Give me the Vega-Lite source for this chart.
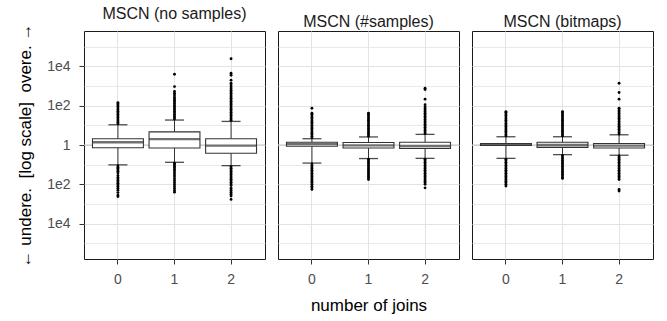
{
  "$schema": "https://vega.github.io/schema/vega-lite/v6.json",
  "background": "white",
  "padding": {"left": 16, "top": 5, "right": 5, "bottom": 5},
  "bounds": "flush",
  "spacing": 13,
  "config": {
    "font": "Liberation Sans",
    "view": {"stroke": "#1a1a1a", "strokeWidth": 1},
    "axis": {
      "labelFont": "Liberation Sans", "labelFontSize": 14, "labelColor": "#4d4d4d",
      "tickColor": "#333333", "tickSize": 5, "domain": false,
      "gridColor": "#e3e3e3", "gridWidth": 1,
      "titleFont": "Liberation Sans", "titleFontSize": 17, "titleColor": "#000000", "titleFontWeight": "normal"
    },
    "title": {"font": "Liberation Sans", "fontSize": 16, "fontWeight": "normal", "color": "#1a1a1a", "baseline": "alphabetic", "offset": 1.5}
  },
  "datasets": {
    "boxes": [
      {"m": "n", "j": 0, "lo": -1.01, "q1": -0.14, "med": 0.14, "q3": 0.32, "hi": 1.03},
      {"m": "n", "j": 1, "lo": -0.88, "q1": -0.15, "med": 0.30, "q3": 0.67, "hi": 1.27},
      {"m": "n", "j": 2, "lo": -1.05, "q1": -0.42, "med": -0.03, "q3": 0.32, "hi": 1.20},
      {"m": "s", "j": 0, "lo": -0.92, "q1": -0.06, "med": 0.04, "q3": 0.14, "hi": 0.32},
      {"m": "s", "j": 1, "lo": -0.69, "q1": -0.15, "med": -0.02, "q3": 0.13, "hi": 0.41},
      {"m": "s", "j": 2, "lo": -0.68, "q1": -0.17, "med": -0.04, "q3": 0.14, "hi": 0.54},
      {"m": "b", "j": 0, "lo": -0.68, "q1": -0.02, "med": 0.02, "q3": 0.08, "hi": 0.42},
      {"m": "b", "j": 1, "lo": -0.49, "q1": -0.12, "med": 0.0, "q3": 0.14, "hi": 0.42},
      {"m": "b", "j": 2, "lo": -0.52, "q1": -0.15, "med": -0.03, "q3": 0.08, "hi": 0.52}
    ],
    "outliers": [
      {"m":"n","j":0,"v":1.08},{"m":"n","j":0,"v":1.16},{"m":"n","j":0,"v":1.24},{"m":"n","j":0,"v":1.32},{"m":"n","j":0,"v":1.40},{"m":"n","j":0,"v":1.48},{"m":"n","j":0,"v":1.56},{"m":"n","j":0,"v":1.64},{"m":"n","j":0,"v":1.72},{"m":"n","j":0,"v":1.80},{"m":"n","j":0,"v":1.88},{"m":"n","j":0,"v":1.96},{"m":"n","j":0,"v":2.04},{"m":"n","j":0,"v":2.10},{"m":"n","j":0,"v":2.16},
      {"m":"n","j":0,"v":-1.06},{"m":"n","j":0,"v":-1.13},{"m":"n","j":0,"v":-1.20},{"m":"n","j":0,"v":-1.27},{"m":"n","j":0,"v":-1.34},{"m":"n","j":0,"v":-1.42},{"m":"n","j":0,"v":-1.55},{"m":"n","j":0,"v":-1.65},{"m":"n","j":0,"v":-1.73},{"m":"n","j":0,"v":-1.80},{"m":"n","j":0,"v":-1.88},{"m":"n","j":0,"v":-1.95},{"m":"n","j":0,"v":-2.02},{"m":"n","j":0,"v":-2.10},{"m":"n","j":0,"v":-2.20},{"m":"n","j":0,"v":-2.30},{"m":"n","j":0,"v":-2.42},{"m":"n","j":0,"v":-2.55},{"m":"n","j":0,"v":-2.62},
      {"m":"n","j":1,"v":1.32},{"m":"n","j":1,"v":1.40},{"m":"n","j":1,"v":1.48},{"m":"n","j":1,"v":1.56},{"m":"n","j":1,"v":1.64},{"m":"n","j":1,"v":1.72},{"m":"n","j":1,"v":1.80},{"m":"n","j":1,"v":1.88},{"m":"n","j":1,"v":1.96},{"m":"n","j":1,"v":2.04},{"m":"n","j":1,"v":2.12},{"m":"n","j":1,"v":2.20},{"m":"n","j":1,"v":2.28},{"m":"n","j":1,"v":2.36},{"m":"n","j":1,"v":2.44},{"m":"n","j":1,"v":2.55},{"m":"n","j":1,"v":2.63},{"m":"n","j":1,"v":2.72},{"m":"n","j":1,"v":2.97},{"m":"n","j":1,"v":3.60},
      {"m":"n","j":1,"v":-0.93},{"m":"n","j":1,"v":-1.00},{"m":"n","j":1,"v":-1.08},{"m":"n","j":1,"v":-1.16},{"m":"n","j":1,"v":-1.24},{"m":"n","j":1,"v":-1.32},{"m":"n","j":1,"v":-1.42},{"m":"n","j":1,"v":-1.52},{"m":"n","j":1,"v":-1.62},{"m":"n","j":1,"v":-1.72},{"m":"n","j":1,"v":-1.82},{"m":"n","j":1,"v":-1.92},{"m":"n","j":1,"v":-2.02},{"m":"n","j":1,"v":-2.12},{"m":"n","j":1,"v":-2.22},{"m":"n","j":1,"v":-2.32},{"m":"n","j":1,"v":-2.40},
      {"m":"n","j":2,"v":1.26},{"m":"n","j":2,"v":1.34},{"m":"n","j":2,"v":1.42},{"m":"n","j":2,"v":1.50},{"m":"n","j":2,"v":1.58},{"m":"n","j":2,"v":1.66},{"m":"n","j":2,"v":1.74},{"m":"n","j":2,"v":1.82},{"m":"n","j":2,"v":1.90},{"m":"n","j":2,"v":1.98},{"m":"n","j":2,"v":2.06},{"m":"n","j":2,"v":2.14},{"m":"n","j":2,"v":2.22},{"m":"n","j":2,"v":2.30},{"m":"n","j":2,"v":2.38},{"m":"n","j":2,"v":2.46},{"m":"n","j":2,"v":2.54},{"m":"n","j":2,"v":2.62},{"m":"n","j":2,"v":2.70},{"m":"n","j":2,"v":2.78},{"m":"n","j":2,"v":2.86},{"m":"n","j":2,"v":2.95},{"m":"n","j":2,"v":3.05},{"m":"n","j":2,"v":3.14},{"m":"n","j":2,"v":3.30},{"m":"n","j":2,"v":3.55},{"m":"n","j":2,"v":3.65},{"m":"n","j":2,"v":4.39},
      {"m":"n","j":2,"v":-1.10},{"m":"n","j":2,"v":-1.18},{"m":"n","j":2,"v":-1.26},{"m":"n","j":2,"v":-1.34},{"m":"n","j":2,"v":-1.42},{"m":"n","j":2,"v":-1.50},{"m":"n","j":2,"v":-1.58},{"m":"n","j":2,"v":-1.66},{"m":"n","j":2,"v":-1.74},{"m":"n","j":2,"v":-1.82},{"m":"n","j":2,"v":-1.90},{"m":"n","j":2,"v":-1.98},{"m":"n","j":2,"v":-2.06},{"m":"n","j":2,"v":-2.20},{"m":"n","j":2,"v":-2.30},{"m":"n","j":2,"v":-2.40},{"m":"n","j":2,"v":-2.50},{"m":"n","j":2,"v":-2.60},{"m":"n","j":2,"v":-2.77},
      {"m":"s","j":0,"v":0.36},{"m":"s","j":0,"v":0.44},{"m":"s","j":0,"v":0.52},{"m":"s","j":0,"v":0.60},{"m":"s","j":0,"v":0.68},{"m":"s","j":0,"v":0.76},{"m":"s","j":0,"v":0.84},{"m":"s","j":0,"v":0.92},{"m":"s","j":0,"v":1.00},{"m":"s","j":0,"v":1.08},{"m":"s","j":0,"v":1.16},{"m":"s","j":0,"v":1.24},{"m":"s","j":0,"v":1.32},{"m":"s","j":0,"v":1.40},{"m":"s","j":0,"v":1.48},{"m":"s","j":0,"v":1.56},{"m":"s","j":0,"v":1.62},{"m":"s","j":0,"v":1.87},
      {"m":"s","j":0,"v":-0.96},{"m":"s","j":0,"v":-1.04},{"m":"s","j":0,"v":-1.12},{"m":"s","j":0,"v":-1.20},{"m":"s","j":0,"v":-1.28},{"m":"s","j":0,"v":-1.36},{"m":"s","j":0,"v":-1.44},{"m":"s","j":0,"v":-1.52},{"m":"s","j":0,"v":-1.60},{"m":"s","j":0,"v":-1.68},{"m":"s","j":0,"v":-1.76},{"m":"s","j":0,"v":-1.84},{"m":"s","j":0,"v":-1.92},{"m":"s","j":0,"v":-2.00},{"m":"s","j":0,"v":-2.10},{"m":"s","j":0,"v":-2.18},{"m":"s","j":0,"v":-2.26},
      {"m":"s","j":1,"v":0.45},{"m":"s","j":1,"v":0.53},{"m":"s","j":1,"v":0.61},{"m":"s","j":1,"v":0.69},{"m":"s","j":1,"v":0.77},{"m":"s","j":1,"v":0.85},{"m":"s","j":1,"v":0.93},{"m":"s","j":1,"v":1.01},{"m":"s","j":1,"v":1.10},{"m":"s","j":1,"v":1.18},{"m":"s","j":1,"v":1.26},{"m":"s","j":1,"v":1.34},{"m":"s","j":1,"v":1.42},{"m":"s","j":1,"v":1.50},{"m":"s","j":1,"v":1.58},{"m":"s","j":1,"v":1.62},
      {"m":"s","j":1,"v":-0.72},{"m":"s","j":1,"v":-0.80},{"m":"s","j":1,"v":-0.88},{"m":"s","j":1,"v":-0.96},{"m":"s","j":1,"v":-1.04},{"m":"s","j":1,"v":-1.12},{"m":"s","j":1,"v":-1.20},{"m":"s","j":1,"v":-1.28},{"m":"s","j":1,"v":-1.36},{"m":"s","j":1,"v":-1.44},{"m":"s","j":1,"v":-1.52},{"m":"s","j":1,"v":-1.60},{"m":"s","j":1,"v":-1.68},{"m":"s","j":1,"v":-1.76},
      {"m":"s","j":2,"v":0.58},{"m":"s","j":2,"v":0.66},{"m":"s","j":2,"v":0.74},{"m":"s","j":2,"v":0.82},{"m":"s","j":2,"v":0.90},{"m":"s","j":2,"v":0.98},{"m":"s","j":2,"v":1.06},{"m":"s","j":2,"v":1.14},{"m":"s","j":2,"v":1.22},{"m":"s","j":2,"v":1.30},{"m":"s","j":2,"v":1.38},{"m":"s","j":2,"v":1.46},{"m":"s","j":2,"v":1.54},{"m":"s","j":2,"v":1.62},{"m":"s","j":2,"v":1.70},{"m":"s","j":2,"v":1.78},{"m":"s","j":2,"v":1.86},{"m":"s","j":2,"v":1.94},{"m":"s","j":2,"v":2.05},{"m":"s","j":2,"v":2.33},{"m":"s","j":2,"v":2.82},{"m":"s","j":2,"v":2.89},
      {"m":"s","j":2,"v":-0.72},{"m":"s","j":2,"v":-0.80},{"m":"s","j":2,"v":-0.88},{"m":"s","j":2,"v":-0.96},{"m":"s","j":2,"v":-1.04},{"m":"s","j":2,"v":-1.12},{"m":"s","j":2,"v":-1.20},{"m":"s","j":2,"v":-1.28},{"m":"s","j":2,"v":-1.36},{"m":"s","j":2,"v":-1.44},{"m":"s","j":2,"v":-1.52},{"m":"s","j":2,"v":-1.60},{"m":"s","j":2,"v":-1.68},{"m":"s","j":2,"v":-1.76},{"m":"s","j":2,"v":-1.84},{"m":"s","j":2,"v":-1.92},{"m":"s","j":2,"v":-2.00},{"m":"s","j":2,"v":-2.18},
      {"m":"b","j":0,"v":0.46},{"m":"b","j":0,"v":0.54},{"m":"b","j":0,"v":0.62},{"m":"b","j":0,"v":0.70},{"m":"b","j":0,"v":0.78},{"m":"b","j":0,"v":0.86},{"m":"b","j":0,"v":0.94},{"m":"b","j":0,"v":1.02},{"m":"b","j":0,"v":1.10},{"m":"b","j":0,"v":1.18},{"m":"b","j":0,"v":1.26},{"m":"b","j":0,"v":1.34},{"m":"b","j":0,"v":1.42},{"m":"b","j":0,"v":1.50},{"m":"b","j":0,"v":1.58},{"m":"b","j":0,"v":1.66},{"m":"b","j":0,"v":1.70},
      {"m":"b","j":0,"v":-0.72},{"m":"b","j":0,"v":-0.80},{"m":"b","j":0,"v":-0.88},{"m":"b","j":0,"v":-0.96},{"m":"b","j":0,"v":-1.04},{"m":"b","j":0,"v":-1.12},{"m":"b","j":0,"v":-1.20},{"m":"b","j":0,"v":-1.28},{"m":"b","j":0,"v":-1.36},{"m":"b","j":0,"v":-1.44},{"m":"b","j":0,"v":-1.52},{"m":"b","j":0,"v":-1.60},{"m":"b","j":0,"v":-1.68},{"m":"b","j":0,"v":-1.76},{"m":"b","j":0,"v":-1.84},{"m":"b","j":0,"v":-1.92},{"m":"b","j":0,"v":-2.00},{"m":"b","j":0,"v":-2.09},
      {"m":"b","j":1,"v":0.46},{"m":"b","j":1,"v":0.54},{"m":"b","j":1,"v":0.62},{"m":"b","j":1,"v":0.70},{"m":"b","j":1,"v":0.78},{"m":"b","j":1,"v":0.86},{"m":"b","j":1,"v":0.94},{"m":"b","j":1,"v":1.02},{"m":"b","j":1,"v":1.10},{"m":"b","j":1,"v":1.18},{"m":"b","j":1,"v":1.26},{"m":"b","j":1,"v":1.34},{"m":"b","j":1,"v":1.42},{"m":"b","j":1,"v":1.50},{"m":"b","j":1,"v":1.58},{"m":"b","j":1,"v":1.66},{"m":"b","j":1,"v":1.70},
      {"m":"b","j":1,"v":-0.53},{"m":"b","j":1,"v":-0.61},{"m":"b","j":1,"v":-0.69},{"m":"b","j":1,"v":-0.77},{"m":"b","j":1,"v":-0.85},{"m":"b","j":1,"v":-0.93},{"m":"b","j":1,"v":-1.01},{"m":"b","j":1,"v":-1.09},{"m":"b","j":1,"v":-1.17},{"m":"b","j":1,"v":-1.25},{"m":"b","j":1,"v":-1.33},{"m":"b","j":1,"v":-1.41},{"m":"b","j":1,"v":-1.49},{"m":"b","j":1,"v":-1.57},{"m":"b","j":1,"v":-1.65},{"m":"b","j":1,"v":-1.70},
      {"m":"b","j":2,"v":0.56},{"m":"b","j":2,"v":0.64},{"m":"b","j":2,"v":0.72},{"m":"b","j":2,"v":0.80},{"m":"b","j":2,"v":0.88},{"m":"b","j":2,"v":0.96},{"m":"b","j":2,"v":1.04},{"m":"b","j":2,"v":1.12},{"m":"b","j":2,"v":1.20},{"m":"b","j":2,"v":1.28},{"m":"b","j":2,"v":1.36},{"m":"b","j":2,"v":1.44},{"m":"b","j":2,"v":1.52},{"m":"b","j":2,"v":1.60},{"m":"b","j":2,"v":1.68},{"m":"b","j":2,"v":1.76},{"m":"b","j":2,"v":1.84},{"m":"b","j":2,"v":1.87},{"m":"b","j":2,"v":2.33},{"m":"b","j":2,"v":2.67},{"m":"b","j":2,"v":3.14},
      {"m":"b","j":2,"v":-0.56},{"m":"b","j":2,"v":-0.64},{"m":"b","j":2,"v":-0.72},{"m":"b","j":2,"v":-0.80},{"m":"b","j":2,"v":-0.88},{"m":"b","j":2,"v":-0.96},{"m":"b","j":2,"v":-1.04},{"m":"b","j":2,"v":-1.12},{"m":"b","j":2,"v":-1.20},{"m":"b","j":2,"v":-1.28},{"m":"b","j":2,"v":-1.36},{"m":"b","j":2,"v":-1.44},{"m":"b","j":2,"v":-1.52},{"m":"b","j":2,"v":-1.60},{"m":"b","j":2,"v":-1.68},{"m":"b","j":2,"v":-1.76},{"m":"b","j":2,"v":-2.26},{"m":"b","j":2,"v":-2.34}
    ]
  },
  "hconcat": [
    {
      "width": 181, "height": 228,
      "title": {"text": "MSCN (no samples)"},
      "resolve": {"axis": {"y": "independent"}},
      "layer": [
        {"data": {"name": "boxes"}, "transform": [{"filter": "datum.m === 'n' && datum.j === 0"}],
         "mark": {"type": "rule", "color": "#c4c4c4", "strokeWidth": 1},
         "encoding": {"y": {"datum": 0, "type": "quantitative",
           "scale": {"domain": [-5.8, 5.8], "nice": false, "zero": false},
           "axis": {"orient": "left", "title": null, "labels": false, "ticks": false, "domain": false, "grid": true,
             "values": [-5, -3, -1, 1, 3, 5], "gridWidth": 0.8}}}},
        {"data": {"name": "boxes"}, "transform": [{"filter": "datum.m === 'n'"}],
         "mark": {"type": "rule", "color": "#333333", "strokeWidth": 1},
         "encoding": {"x": {"field": "j", "type": "ordinal", "scale": {"type": "band", "paddingInner": 0.1, "paddingOuter": 0.15}, "axis": {"title": null, "labelAngle": 0, "bandPosition": 0.5, "grid": true, "labelPadding": 8}},
           "y": {"field": "lo", "type": "quantitative", "axis": null}, "y2": {"field": "hi"}}},
        {"data": {"name": "boxes"}, "transform": [{"filter": "datum.m === 'n'"}],
         "mark": {"type": "tick", "size": 19, "thickness": 1.3, "color": "#000000"},
         "encoding": {"x": {"field": "j", "type": "ordinal"}, "y": {"field": "lo", "type": "quantitative", "axis": null}}},
        {"data": {"name": "boxes"}, "transform": [{"filter": "datum.m === 'n'"}],
         "mark": {"type": "tick", "size": 19, "thickness": 1.3, "color": "#000000"},
         "encoding": {"x": {"field": "j", "type": "ordinal"}, "y": {"field": "hi", "type": "quantitative", "axis": null}}},
        {"data": {"name": "boxes"}, "transform": [{"filter": "datum.m === 'n'"}],
         "mark": {"type": "bar", "fill": "white", "stroke": "#333333", "strokeWidth": 1.1},
         "encoding": {"x": {"field": "j", "type": "ordinal"}, "y": {"field": "q1", "type": "quantitative", "axis": null}, "y2": {"field": "q3"}}},
        {"data": {"name": "boxes"}, "transform": [{"filter": "datum.m === 'n'"}],
         "mark": {"type": "tick", "size": 51, "thickness": 2.3, "color": "#333333"},
         "encoding": {"x": {"field": "j", "type": "ordinal"}, "y": {"field": "med", "type": "quantitative", "axis": null}}},
        {"data": {"name": "outliers"}, "transform": [{"filter": "datum.m === 'n'"}],
         "mark": {"type": "circle", "size": 8, "color": "#000000", "opacity": 1},
         "encoding": {"x": {"field": "j", "type": "ordinal"}, "y": {"field": "v", "type": "quantitative",
           "axis": {"orient": "left", "grid": true, "title": "← undere.\u00a0 [log scale]\u00a0 overe. →", "titlePadding": 12, "labelPadding": 9,
             "values": [-4, -2, 0, 2, 4],
             "labelExpr": "datum.value == 0 ? '1' : (abs(datum.value) == 2 ? '1e2' : '1e4')"}}}}
      ]
    },
    {
      "width": 181, "height": 228,
      "title": {"text": "MSCN (#samples)"},
      "resolve": {"axis": {"y": "independent"}},
      "layer": [
        {"data": {"name": "boxes"}, "transform": [{"filter": "datum.m === 's' && datum.j === 0"}],
         "mark": {"type": "rule", "color": "#c4c4c4", "strokeWidth": 1},
         "encoding": {"y": {"datum": 0, "type": "quantitative",
           "scale": {"domain": [-5.8, 5.8], "nice": false, "zero": false},
           "axis": {"orient": "left", "title": null, "labels": false, "ticks": false, "domain": false, "grid": true,
             "values": [-5, -3, -1, 1, 3, 5], "gridWidth": 0.8}}}},
        {"data": {"name": "boxes"}, "transform": [{"filter": "datum.m === 's'"}],
         "mark": {"type": "rule", "color": "#333333", "strokeWidth": 1},
         "encoding": {"x": {"field": "j", "type": "ordinal", "scale": {"type": "band", "paddingInner": 0.1, "paddingOuter": 0.15}, "axis": {"title": "number of joins", "titlePadding": 11, "labelAngle": 0, "bandPosition": 0.5, "grid": true, "labelPadding": 8}},
           "y": {"field": "lo", "type": "quantitative", "axis": null}, "y2": {"field": "hi"}}},
        {"data": {"name": "boxes"}, "transform": [{"filter": "datum.m === 's'"}],
         "mark": {"type": "tick", "size": 19, "thickness": 1.3, "color": "#000000"},
         "encoding": {"x": {"field": "j", "type": "ordinal"}, "y": {"field": "lo", "type": "quantitative", "axis": null}}},
        {"data": {"name": "boxes"}, "transform": [{"filter": "datum.m === 's'"}],
         "mark": {"type": "tick", "size": 19, "thickness": 1.3, "color": "#000000"},
         "encoding": {"x": {"field": "j", "type": "ordinal"}, "y": {"field": "hi", "type": "quantitative", "axis": null}}},
        {"data": {"name": "boxes"}, "transform": [{"filter": "datum.m === 's'"}],
         "mark": {"type": "bar", "fill": "white", "stroke": "#333333", "strokeWidth": 1.1},
         "encoding": {"x": {"field": "j", "type": "ordinal"}, "y": {"field": "q1", "type": "quantitative", "axis": null}, "y2": {"field": "q3"}}},
        {"data": {"name": "boxes"}, "transform": [{"filter": "datum.m === 's'"}],
         "mark": {"type": "tick", "size": 51, "thickness": 2.3, "color": "#333333"},
         "encoding": {"x": {"field": "j", "type": "ordinal"}, "y": {"field": "med", "type": "quantitative", "axis": null}}},
        {"data": {"name": "outliers"}, "transform": [{"filter": "datum.m === 's'"}],
         "mark": {"type": "circle", "size": 8, "color": "#000000", "opacity": 1},
         "encoding": {"x": {"field": "j", "type": "ordinal"}, "y": {"field": "v", "type": "quantitative",
           "axis": {"orient": "left", "grid": true, "title": null, "labels": false, "ticks": false, "domain": false, "values": [-4, -2, 0, 2, 4]}}}}
      ]
    },
    {
      "width": 181, "height": 228,
      "title": {"text": "MSCN (bitmaps)"},
      "resolve": {"axis": {"y": "independent"}},
      "layer": [
        {"data": {"name": "boxes"}, "transform": [{"filter": "datum.m === 'b' && datum.j === 0"}],
         "mark": {"type": "rule", "color": "#c4c4c4", "strokeWidth": 1},
         "encoding": {"y": {"datum": 0, "type": "quantitative",
           "scale": {"domain": [-5.8, 5.8], "nice": false, "zero": false},
           "axis": {"orient": "left", "title": null, "labels": false, "ticks": false, "domain": false, "grid": true,
             "values": [-5, -3, -1, 1, 3, 5], "gridWidth": 0.8}}}},
        {"data": {"name": "boxes"}, "transform": [{"filter": "datum.m === 'b'"}],
         "mark": {"type": "rule", "color": "#333333", "strokeWidth": 1},
         "encoding": {"x": {"field": "j", "type": "ordinal", "scale": {"type": "band", "paddingInner": 0.1, "paddingOuter": 0.15}, "axis": {"title": null, "labelAngle": 0, "bandPosition": 0.5, "grid": true, "labelPadding": 8}},
           "y": {"field": "lo", "type": "quantitative", "axis": null}, "y2": {"field": "hi"}}},
        {"data": {"name": "boxes"}, "transform": [{"filter": "datum.m === 'b'"}],
         "mark": {"type": "tick", "size": 19, "thickness": 1.3, "color": "#000000"},
         "encoding": {"x": {"field": "j", "type": "ordinal"}, "y": {"field": "lo", "type": "quantitative", "axis": null}}},
        {"data": {"name": "boxes"}, "transform": [{"filter": "datum.m === 'b'"}],
         "mark": {"type": "tick", "size": 19, "thickness": 1.3, "color": "#000000"},
         "encoding": {"x": {"field": "j", "type": "ordinal"}, "y": {"field": "hi", "type": "quantitative", "axis": null}}},
        {"data": {"name": "boxes"}, "transform": [{"filter": "datum.m === 'b'"}],
         "mark": {"type": "bar", "fill": "white", "stroke": "#333333", "strokeWidth": 1.1},
         "encoding": {"x": {"field": "j", "type": "ordinal"}, "y": {"field": "q1", "type": "quantitative", "axis": null}, "y2": {"field": "q3"}}},
        {"data": {"name": "boxes"}, "transform": [{"filter": "datum.m === 'b'"}],
         "mark": {"type": "tick", "size": 51, "thickness": 2.3, "color": "#333333"},
         "encoding": {"x": {"field": "j", "type": "ordinal"}, "y": {"field": "med", "type": "quantitative", "axis": null}}},
        {"data": {"name": "outliers"}, "transform": [{"filter": "datum.m === 'b'"}],
         "mark": {"type": "circle", "size": 8, "color": "#000000", "opacity": 1},
         "encoding": {"x": {"field": "j", "type": "ordinal"}, "y": {"field": "v", "type": "quantitative",
           "axis": {"orient": "left", "grid": true, "title": null, "labels": false, "ticks": false, "domain": false, "values": [-4, -2, 0, 2, 4]}}}}
      ]
    }
  ]
}
